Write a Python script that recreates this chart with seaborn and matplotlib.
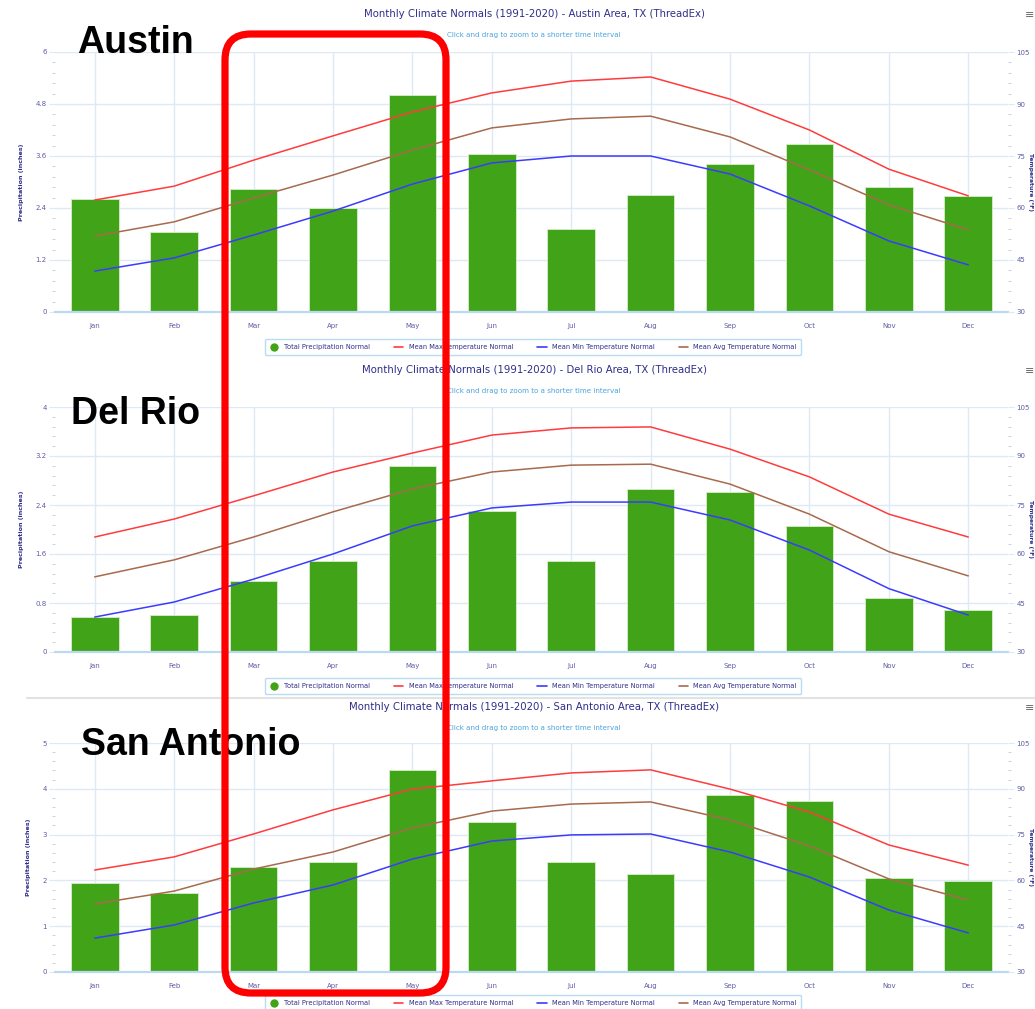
import numpy as np
import pandas as pd
import matplotlib
matplotlib.use("Agg")
import matplotlib.pyplot as plt
import matplotlib.patches as mpatches
from matplotlib.lines import Line2D
from matplotlib.ticker import MultipleLocator, AutoMinorLocator
from matplotlib.transforms import IdentityTransform
import seaborn as sns

sns.set_style("white")
plt.rcParams["font.family"] = ["DejaVu Sans"]

W, H = 1035, 1009

MONTHS = ["Jan", "Feb", "Mar", "Apr", "May", "Jun",
          "Jul", "Aug", "Sep", "Oct", "Nov", "Dec"]

AUSTIN_PRECIP = [2.61, 1.85, 2.84, 2.40, 5.01, 3.65, 1.92, 2.70, 3.42, 3.88, 2.89, 2.68]
AUSTIN_MAX = [62.3, 66.3, 73.8, 80.8, 87.7, 93.2, 96.6, 97.8, 91.4, 82.5, 71.2, 63.5]
AUSTIN_MIN = [41.8, 45.6, 52.2, 59.1, 66.9, 73.0, 75.0, 75.0, 69.8, 60.6, 50.5, 43.6]
AUSTIN_AVG = [51.9, 56.0, 62.9, 69.5, 76.7, 83.1, 85.7, 86.5, 80.5, 71.0, 60.9, 53.7]

DELRIO_PRECIP = [0.57, 0.60, 1.16, 1.49, 3.04, 2.30, 1.49, 2.66, 2.61, 2.06, 0.88, 0.68]
DELRIO_MAX = [65.2, 70.7, 77.8, 85.1, 90.9, 96.4, 98.6, 98.9, 92.1, 83.6, 72.2, 65.2]
DELRIO_MIN = [40.7, 45.3, 52.3, 60.0, 68.6, 74.1, 75.9, 75.9, 70.4, 61.2, 49.4, 41.3]
DELRIO_AVG = [53.0, 58.2, 65.2, 72.9, 79.9, 85.1, 87.2, 87.5, 81.4, 72.2, 60.7, 53.3]

SA_PRECIP = [1.94, 1.72, 2.29, 2.40, 4.41, 3.28, 2.40, 2.14, 3.86, 3.73, 2.05, 1.99]
SA_MAX = [63.4, 67.7, 75.2, 83.1, 89.9, 92.6, 95.2, 96.2, 89.9, 82.4, 71.6, 65.0]
SA_MIN = [41.1, 45.4, 52.6, 58.5, 67.0, 72.9, 74.9, 75.2, 69.3, 61.1, 50.3, 42.8]
SA_AVG = [52.3, 56.5, 63.7, 69.3, 77.2, 82.7, 85.0, 85.7, 79.8, 71.3, 60.5, 53.6]

GREEN = "#41a317"
RED = "#ff3b3b"
BLUE = "#3b3bff"
BROWN = "#a86a4c"
GRID = "#dde9f5"
AXLINE = "#b9dbf2"
TICKTXT = "#5c5ca8"
TITLE = "#2e2e8a"
SUB = "#4aa3df"

SERIES = ["Mean Max Temperature Normal", "Mean Min Temperature Normal",
          "Mean Avg Temperature Normal"]
PALETTE = dict(zip(SERIES, [RED, BLUE, BROWN]))


def fx(x):
    return x / W


def fy(y):
    return 1 - y / H


fig = plt.figure(figsize=(W / 100, H / 100), dpi=100)


def chart(city, precip, tmax, tmin, tavg, ptop, pstep,
          title_y, top, bottom, legend_y, big, big_xy):
    left, right = 55, 1008
    ax = fig.add_axes([fx(left), fy(bottom), fx(right - left), (bottom - top) / H])
    df = pd.DataFrame({"month": MONTHS, "precip": precip})
    sns.barplot(data=df, x="month", y="precip", ax=ax, color=GREEN,
                saturation=1, width=0.6, edgecolor="#cfeac0", linewidth=0.7,
                zorder=2)
    ax.set_xlim(-0.5, 11.5)
    ax.set_ylim(0, ptop)
    ax.yaxis.set_major_locator(MultipleLocator(pstep))
    ax.yaxis.set_minor_locator(AutoMinorLocator(5))
    ax.yaxis.set_major_formatter(lambda v, p: f"{v:g}")
    ax.grid(True, axis="both", which="major", color=GRID, linewidth=1, zorder=0)
    ax.set_axisbelow(True)
    for s in ["top", "left", "right"]:
        ax.spines[s].set_visible(False)
    ax.spines["bottom"].set_color(AXLINE)
    ax.spines["bottom"].set_linewidth(1.6)
    ax.tick_params(axis="x", length=3, color=AXLINE, pad=5, labelsize=5,
                   labelcolor=TICKTXT)
    ax.tick_params(axis="y", which="major", length=4, color=GRID, pad=2,
                   labelsize=5, labelcolor=TICKTXT)
    ax.tick_params(axis="y", which="minor", length=2, color="#c8c8d8", width=0.6)
    ax.set_xlabel("")
    ax.set_ylabel("Precipitation (inches)", fontsize=4.6, fontweight="bold",
                  color=TITLE, labelpad=8)

    ax2 = ax.twinx()
    long = pd.DataFrame({
        "pos": np.tile(np.arange(len(MONTHS)), 3),
        "temp": np.concatenate([tmax, tmin, tavg]),
        "series": np.repeat(SERIES, len(MONTHS)),
    })
    sns.lineplot(data=long, x="pos", y="temp", hue="series", palette=PALETTE,
                 ax=ax2, linewidth=1.1, legend=False, sort=False)
    ax2.set_ylim(30, 105)
    ax2.yaxis.set_major_locator(MultipleLocator(15))
    ax2.yaxis.set_minor_locator(AutoMinorLocator(5))
    for s in ["top", "left", "right", "bottom"]:
        ax2.spines[s].set_visible(False)
    ax2.tick_params(axis="y", which="major", length=4, color=GRID, pad=2,
                    labelsize=5, labelcolor=TICKTXT)
    ax2.tick_params(axis="y", which="minor", length=2, color="#c8c8d8", width=0.6)
    ax2.set_xlabel("")
    ax2.set_ylabel("")
    # right axis title sits at the very edge of the screenshot
    fig.text(fx(1030), fy((top + bottom) / 2), "Temperature (°F)", rotation=270,
             ha="center", va="center", fontsize=4.3, fontweight="bold",
             color=TITLE)

    fig.text(fx(534), fy(title_y), f"Monthly Climate Normals (1991-2020) - {city} Area, TX (ThreadEx)",
             ha="center", va="center", fontsize=7.3, color=TITLE)
    fig.text(fx(534), fy(title_y + 21), "Click and drag to zoom to a shorter time interval",
             ha="center", va="center", fontsize=5.1, color=SUB)
    fig.text(fx(1025), fy(title_y + 1), "≡", ha="left", va="center",
             fontsize=8, color="#666666")

    handles = [Line2D([], [], marker="o", linestyle="none", color=GREEN,
                      markersize=5, label="Total Precipitation Normal")]
    handles += [Line2D([], [], color=PALETTE[s], linewidth=1.2, label=s)
                for s in SERIES]
    leg = fig.legend(handles=handles, loc="center", ncol=4,
                     bbox_to_anchor=(fx(533), fy(legend_y)), fontsize=4.8,
                     frameon=True, fancybox=True, handlelength=1.4,
                     handletextpad=0.8, columnspacing=3.6, borderpad=0.7,
                     labelcolor=TITLE)
    leg.get_frame().set_edgecolor("#a9d4f0")
    leg.get_frame().set_linewidth(1.0)

    fig.text(fx(big_xy[0]), fy(big_xy[1]), big, ha="left", va="baseline",
             fontsize=27, fontweight="bold", color="black",
             family="Liberation Sans", zorder=10)


chart("Austin", AUSTIN_PRECIP, AUSTIN_MAX, AUSTIN_MIN, AUSTIN_AVG, 6, 1.2,
      14, 52, 312, 347, "Austin", (77, 53))
chart("Del Rio", DELRIO_PRECIP, DELRIO_MAX, DELRIO_MIN, DELRIO_AVG, 4, 0.8,
      370, 407, 652, 686, "Del Rio", (71, 424))
chart("San Antonio", SA_PRECIP, SA_MAX, SA_MIN, SA_AVG, 5, 1,
      707, 743, 972, 1003, "San Antonio", (81, 755))

# separator between the stacked screenshots
fig.add_artist(Line2D([fx(27), 1], [fy(698), fy(698)], color="#e2e2e2",
                      linewidth=1.5, transform=fig.transFigure))

# red highlight box around Mar-May
box = mpatches.FancyBboxPatch((225, H - 993), 221, 959,
                              boxstyle="round,pad=0,rounding_size=26",
                              transform=IdentityTransform(), fill=False,
                              edgecolor="#ff0000", linewidth=5.2, zorder=20)
fig.add_artist(box)

fig.savefig("out.png", dpi=100)
